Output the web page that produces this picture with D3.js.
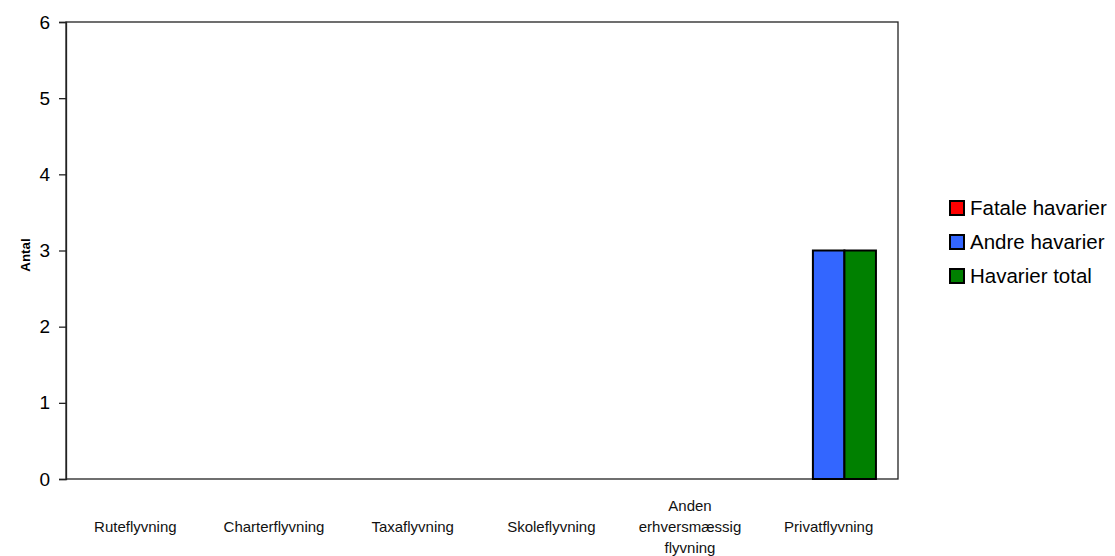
<!DOCTYPE html>
<html>
<head>
<meta charset="utf-8">
<script src="https://cdn.jsdelivr.net/npm/d3@7"></script>
<style>
  body { margin: 0; background: #fff; }
  svg { font-family: "Liberation Sans", Arial, sans-serif; }
</style>
</head>
<body>
<svg id="chart" width="1115" height="556"></svg>
<script>
// data
var categories = [["Ruteflyvning"], ["Charterflyvning"], ["Taxaflyvning"], ["Skoleflyvning"],
                  ["Anden", "erhversmæssig", "flyvning"], ["Privatflyvning"]];
var series_names = ["Fatale havarier", "Andre havarier", "Havarier total"];
var fatale = [0, 0, 0, 0, 0, 0];
var andre = [0, 0, 0, 0, 0, 3];
var total = [0, 0, 0, 0, 0, 3];
var y_ticks = [0, 1, 2, 3, 4, 5, 6];
var series_colors = ["#ff0000", "#3366ff", "#008000"];

var svg = d3.select("#chart");
var plot = {left: 66, top: 22, right: 898, bottom: 479};

var cat_keys = categories.map(function(d) { return d.join(" "); });
var x0 = d3.scaleBand().domain(cat_keys).range([plot.left, plot.right]);
var x1 = d3.scaleBand().domain(series_names).range([0, x0.bandwidth()]).paddingOuter(0.7);
var y = d3.scaleLinear().domain([0, 6]).range([plot.bottom, plot.top]);

// frame
svg.append("rect")
   .attr("x", plot.left).attr("y", plot.top)
   .attr("width", plot.right - plot.left).attr("height", plot.bottom - plot.top)
   .attr("fill", "none").attr("stroke", "#222").attr("stroke-width", 1.3);

// y axis
var y_axis = svg.append("g").attr("transform", "translate(" + plot.left + ",0)")
   .call(d3.axisLeft(y).tickValues(y_ticks).tickSize(7).tickPadding(9).tickFormat(d3.format("d")));
y_axis.select(".domain").attr("stroke", "#222").attr("stroke-width", 1.3);
y_axis.selectAll(".tick line").attr("stroke", "#222").attr("stroke-width", 1.3);
y_axis.selectAll("text").attr("font-size", 19).attr("fill", "#000").attr("font-family", "Liberation Sans, Arial, sans-serif");

svg.append("text")
   .attr("transform", "translate(30,255) rotate(-90)")
   .attr("text-anchor", "middle")
   .attr("font-size", 13.3).attr("font-weight", "bold")
   .text("Antal");

// bars
var rows = categories.map(function(c, i) {
   return {key: cat_keys[i], vals: [fatale[i], andre[i], total[i]]};
});
var groups = svg.append("g").selectAll("g").data(rows).enter().append("g")
   .attr("transform", function(d) { return "translate(" + x0(d.key) + ",0)"; });
groups.selectAll("rect").data(function(d) {
      return d.vals.map(function(v, j) { return {name: series_names[j], v: v, c: series_colors[j]}; });
   })
   .enter().filter(function(d) { return d.v > 0; }).append("rect")
   .attr("x", function(d) { return x1(d.name); })
   .attr("width", x1.bandwidth())
   .attr("y", function(d) { return y(d.v); })
   .attr("height", function(d) { return y(0) - y(d.v); })
   .attr("fill", function(d) { return d.c; })
   .attr("stroke", "#000").attr("stroke-width", 2);

// category labels
var lbl = svg.append("g").selectAll("text").data(categories).enter().append("text")
   .attr("text-anchor", "middle").attr("font-size", 15).attr("fill", "#111");
lbl.each(function(d, i) {
   var t = d3.select(this);
   var cx = x0(cat_keys[i]) + x0.bandwidth() / 2;
   var y_start = 532 - (d.length - 1) * 21 / 2;
   d.forEach(function(line, k) {
      t.append("tspan").attr("x", cx).attr("y", y_start + k * 21).text(line);
   });
});

// legend
var legend = svg.append("g").attr("transform", "translate(950,200)");
var leg = legend.selectAll("g").data(series_names).enter().append("g")
   .attr("transform", function(d, i) { return "translate(0," + i * 34 + ")"; });
leg.append("rect").attr("x", 0).attr("y", 1).attr("width", 14).attr("height", 14)
   .attr("fill", function(d, i) { return series_colors[i]; })
   .attr("stroke", "#000").attr("stroke-width", 2);
leg.append("text").attr("x", 20).attr("y", 15)
   .attr("font-size", 20.5).attr("fill", "#000")
   .text(function(d) { return d; });
</script>
</body>
</html>
